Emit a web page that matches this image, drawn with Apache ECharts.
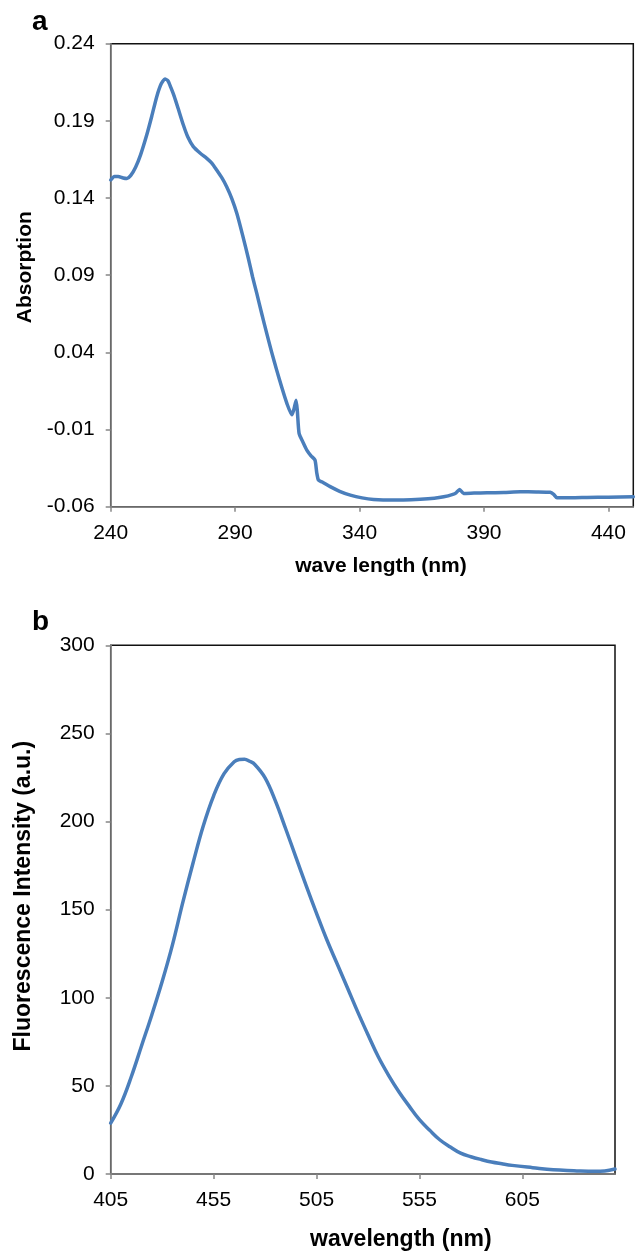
<!DOCTYPE html>
<html>
<head>
<meta charset="utf-8">
<script src="https://cdn.jsdelivr.net/npm/echarts@6/dist/echarts.min.js"></script>
<style>
html,body{margin:0;padding:0;background:#fff;}
#chart{width:643px;height:1252px;}
</style>
</head>
<body>
<div id="chart"></div>
<script>
// ---- Panel a: absorption spectrum ----
const absWavelength = [240,241.5,243,245,246.5,248,250,252,254.5,256.5,258.5,260.3,261.8,263,264.2,265.5,267.3,269.2,271,273.2,276,278.6,280.7,282.6,284.7,286.6,288.7,290.7,293,295.3,297,298.7,300.7,302.7,304.7,306.7,308.8,310.8,312.8,313.6,314.5,315.0,315.7,317.2,318.8,320.5,322.1,322.8,323.5,325,328.2,332,336.3,341,345.6,353.7,364.4,370,373.8,377.5,378.8,380.2,381.8,386,391.2,398,404.6,411,416.6,418,419.3,425,431.4,440,450];
const absorption = [0.1517,0.1540,0.1540,0.1530,0.1527,0.1545,0.1600,0.1680,0.1810,0.1930,0.2057,0.2140,0.2171,0.2160,0.2115,0.2060,0.1970,0.1873,0.1795,0.1733,0.1690,0.1657,0.1625,0.1581,0.1530,0.1473,0.1395,0.1300,0.1160,0.1010,0.0890,0.0782,0.0650,0.0523,0.0400,0.0285,0.0170,0.0069,-0.0005,0.0030,0.0090,0.0020,-0.0125,-0.0180,-0.0233,-0.0270,-0.0298,-0.0380,-0.0428,-0.0440,-0.0470,-0.0500,-0.0525,-0.0543,-0.0553,-0.0557,-0.0551,-0.0545,-0.0536,-0.0520,-0.0510,-0.0488,-0.0514,-0.0512,-0.0510,-0.0508,-0.0503,-0.0504,-0.0507,-0.0520,-0.0542,-0.0542,-0.0540,-0.0538,-0.0536];
const absXTicks = [240,290,340,390,440];
const absYTicks = [-0.06,-0.01,0.04,0.09,0.14,0.19,0.24];

// ---- Panel b: fluorescence spectrum ----
const flWavelength = [405,410,415,420,425,430,435,440,445,450,455,460,465,467.5,470,472.5,475,480,485,490,495,500,505,510,515,520,525,530,535,540,545,550,555,560,565,570,575,580,585,590,595,600,610,620,630,640,645,650];
const fluorescence = [28.9,39.9,55.2,72.8,90.4,109.2,130,154,176.5,197.6,214.6,227,233.9,235.2,235.4,234.2,232.4,224.8,211.7,195.9,179.7,163.5,147.9,132.9,119.3,105.7,92,79,66.5,56,46.7,38.5,30.8,24.8,19.3,15.3,11.8,9.8,8.2,6.8,5.8,4.9,3.6,2.4,1.9,1.5,1.7,2.8];
const flXTicks = [405,455,505,555,605];
const flYTicks = [0,50,100,150,200,250,300];

const FONT = 'Liberation Sans, Arial, Helvetica, sans-serif';
const AXIS_GRAY = '#878787';
const LINE_BLUE = '#4a7ebb';

const chart = echarts.init(document.getElementById('chart'));

function xAxisCfg(gridIndex, min, max, ticks, name, nameGap, padLeft) {
  return {
    type: 'value', gridIndex, min, max,
    name, nameLocation: 'middle', nameGap,
    nameTextStyle: {fontFamily: FONT, fontWeight: 'bold', fontSize: gridIndex === 0 ? 21 : 23, color: '#000', padding: [0,0,0,padLeft]},
    axisLine: {show: true, onZero: false, lineStyle: {color: AXIS_GRAY, width: 1.5}},
    axisTick: {show: true, length: 5, inside: false, customValues: ticks, lineStyle: {color: AXIS_GRAY, width: 1.5}},
    axisLabel: {customValues: ticks, margin: 16, fontFamily: FONT, fontSize: 21, color: '#000'},
    splitLine: {show: false}
  };
}

const option = {
  animation: false,
  backgroundColor: '#fff',
  graphic: [
    {type: 'text', left: 32, top: 8, style: {text: 'a', font: 'bold 28px ' + FONT, fill: '#000'}},
    {type: 'text', left: 32, top: 608, style: {text: 'b', font: 'bold 28px ' + FONT, fill: '#000'}}
  ],
  grid: [
    {left: 110.7, top: 43.7, width: 522.6, height: 463, show: true, borderColor: '#111', borderWidth: 1.5, backgroundColor: '#fff', containLabel: false},
    {left: 110.7, top: 645.3, width: 504.3, height: 529, show: true, borderColor: '#111', borderWidth: 1.5, backgroundColor: '#fff', containLabel: false}
  ],
  xAxis: [
    xAxisCfg(0, 240, 450, absXTicks, 'wave length (nm)', 49, 18),
    xAxisCfg(1, 405, 650, flXTicks, 'wavelength (nm)', 54, 76)
  ],
  yAxis: [
    {
      type: 'value', gridIndex: 0, min: -0.06, max: 0.24,
      name: 'Absorption', nameLocation: 'middle', nameGap: 75, nameRotate: 90,
      nameTextStyle: {fontFamily: FONT, fontWeight: 'bold', fontSize: 21, color: '#000', padding: [0,0,0,16]},
      axisLine: {show: true, onZero: false, lineStyle: {color: AXIS_GRAY, width: 1.5}},
      axisTick: {show: true, length: 5, customValues: absYTicks, lineStyle: {color: AXIS_GRAY, width: 1.5}},
      axisLabel: {customValues: absYTicks, margin: 16, fontFamily: FONT, fontSize: 21, color: '#000', formatter: v => Number(v).toFixed(2)},
      splitLine: {show: false}
    },
    {
      type: 'value', gridIndex: 1, min: 0, max: 300, interval: 50,
      name: 'Fluorescence Intensity (a.u.)', nameLocation: 'middle', nameGap: 76, nameRotate: 90,
      nameTextStyle: {fontFamily: FONT, fontWeight: 'bold', fontSize: 23, color: '#000', padding: [0,0,0,27]},
      axisLine: {show: true, onZero: false, lineStyle: {color: AXIS_GRAY, width: 1.5}},
      axisTick: {show: true, length: 5, lineStyle: {color: AXIS_GRAY, width: 1.5}},
      axisLabel: {margin: 16, fontFamily: FONT, fontSize: 21, color: '#000'},
      splitLine: {show: false}
    }
  ],
  series: [
    {
      type: 'line', xAxisIndex: 0, yAxisIndex: 0, showSymbol: false, symbol: 'none',
      data: absWavelength.map((w, i) => [w, absorption[i]]),
      lineStyle: {color: LINE_BLUE, width: 3.5, cap: 'round', join: 'round'},
      smooth: 0.2
    },
    {
      type: 'line', xAxisIndex: 1, yAxisIndex: 1, showSymbol: false, symbol: 'none',
      data: flWavelength.map((w, i) => [w, fluorescence[i]]),
      lineStyle: {color: LINE_BLUE, width: 3.5, cap: 'round', join: 'round'},
      smooth: 0.4
    }
  ]
};
chart.setOption(option);
</script>
</body>
</html>
